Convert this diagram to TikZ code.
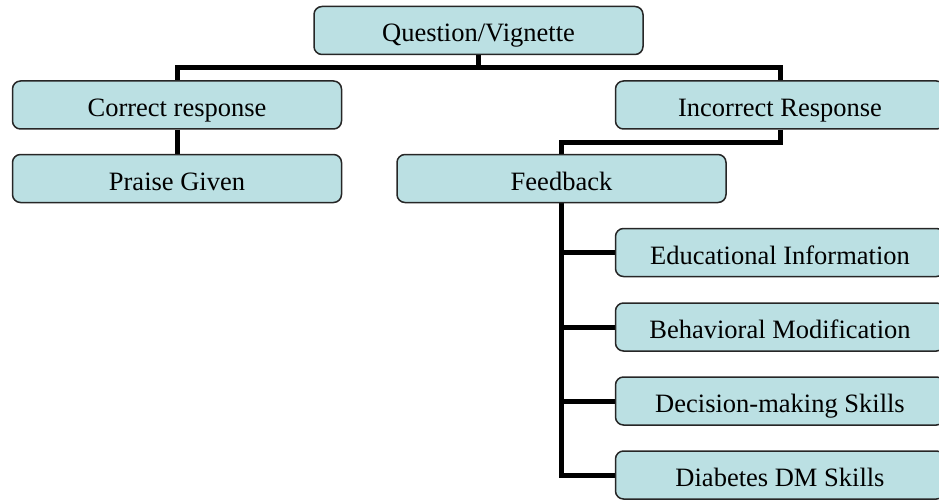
\documentclass[tikz,border=0pt]{standalone}
\usepackage{fontspec}
\setmainfont{Liberation Serif}
\usetikzlibrary{backgrounds}
\definecolor{boxfill}{RGB}{187,224,227}
\begin{document}
\begin{tikzpicture}[x=1pt,y=-1pt,
  box/.style={draw=black!85,line width=1.5pt,fill=boxfill,rounded corners=8pt,
    minimum width=329pt,minimum height=48pt,inner sep=0pt,
    text height=23pt,text depth=0pt,
    font=\fontsize{26.5}{30}\selectfont},
  link/.style={line width=5pt,black}]
\clip (0,0) rectangle (939,500);
\node[box] (q)  at (478.5,30.5) {Question/Vignette};
\node[box] (cr) at (177,105)   {Correct response};
\node[box] (ir) at (780,105)   {Incorrect Response};
\node[box] (pg) at (177,178.5) {Praise Given};
\node[box] (fb) at (561.5,178.5) {Feedback};
\node[box] (ei) at (780,252.5) {Educational Information};
\node[box] (bm) at (780,327)   {Behavioral Modification};
\node[box] (dm) at (780,401)   {Decision-making Skills};
\node[box] (dd) at (780,475)   {Diabetes DM Skills};
\coordinate (bus) at (478.5,68);
\coordinate (fbus) at (561.5,142);
\begin{pgfonlayer}{background}
\draw[link] (q.south) -- (bus);
\draw[link] (cr.north) |- (bus) -| (ir.north);
\draw[link] (cr.south) -- (pg.north);
\draw[link] (ir.south) |- (fbus) -- (fb.north);
\draw[link] (fb.south) |- (ei.west);
\draw[link] (fb.south) |- (bm.west);
\draw[link] (fb.south) |- (dm.west);
\draw[link] (fb.south) |- (dd.west);
\end{pgfonlayer}
\end{tikzpicture}
\end{document}
